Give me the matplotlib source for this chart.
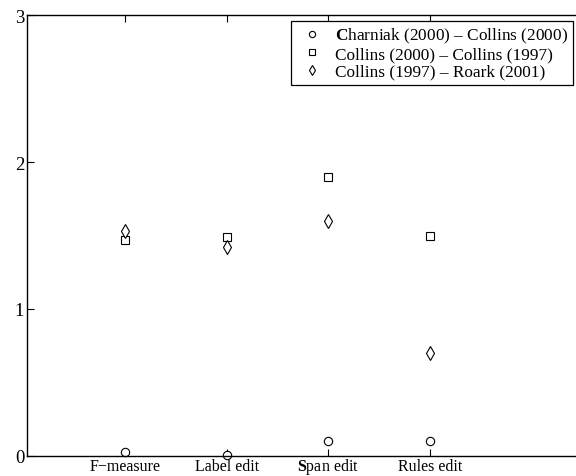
import matplotlib
matplotlib.use("Agg")
import matplotlib.pyplot as plt
import numpy as np

plt.rcParams["font.family"] = ["Liberation Serif", "DejaVu Serif"]
plt.rcParams["mathtext.fontset"] = "custom"
plt.rcParams["mathtext.rm"] = "Liberation Serif"
plt.rcParams["mathtext.bf"] = "Liberation Serif:bold"

categories = ["F\u2212measure", "Label edit", r"$\mathbf{S}$pan edit", "Rules edit"]
series_labels = [
    r"$\mathbf{C}$harniak (2000) " + "\u2013 Collins (2000)",
    "Collins (2000) \u2013 Collins (1997)",
    "Collins (1997) \u2013 Roark (2001)",
]
charniak_collins = [0.03, 0.01, 0.10, 0.10]
collins00_collins97 = [1.47, 1.49, 1.90, 1.50]
collins97_roark = [1.53, 1.42, 1.60, 0.70]
markers = ["o", "s", "d"]
sizes = [6, 5.5, 7]

W, H = 576, 477
fig = plt.figure(figsize=(W / 100, H / 100), dpi=100)
ax = fig.add_axes([27 / W, 1 - 457 / H, (582.5 - 27) / W, (457 - 16) / H])

x = np.arange(1, len(categories) + 1)
for vals, m, ms, lab in zip([charniak_collins, collins00_collins97, collins97_roark], markers, sizes, series_labels):
    ax.plot(x, vals, linestyle="none", marker=m, markersize=ms, markerfacecolor="white",
            markeredgecolor="black", markeredgewidth=0.8, label=lab, clip_on=False)

ax.set_xlim(0.036, 5.5)
ax.set_ylim(0, 3)
ax.set_xticks(x)
ax.set_xticklabels(categories, fontsize=11.5, va="baseline")
ax.set_yticks([0, 1, 2, 3])
ax.set_yticklabels(["0", "1", "2", "3"], fontsize=13.5)
ax.tick_params(direction="in", length=5, width=0.8, top=True, right=True)
ax.tick_params(axis="x", pad=10)
ax.tick_params(axis="y", pad=2)
for s in ax.spines.values():
    s.set_linewidth(1.0)

leg = ax.legend(loc="upper left", bbox_to_anchor=(291 / W, 1 - 22 / H),
                bbox_transform=fig.transFigure, borderaxespad=0, fontsize=12.4,
                frameon=True, fancybox=False, edgecolor="black", framealpha=1,
                handletextpad=0.4, labelspacing=0.06, borderpad=0.3, handlelength=1.86,
                markerscale=0.75)
leg.get_frame().set_linewidth(0.9)

fig.savefig("out.png", dpi=100)
